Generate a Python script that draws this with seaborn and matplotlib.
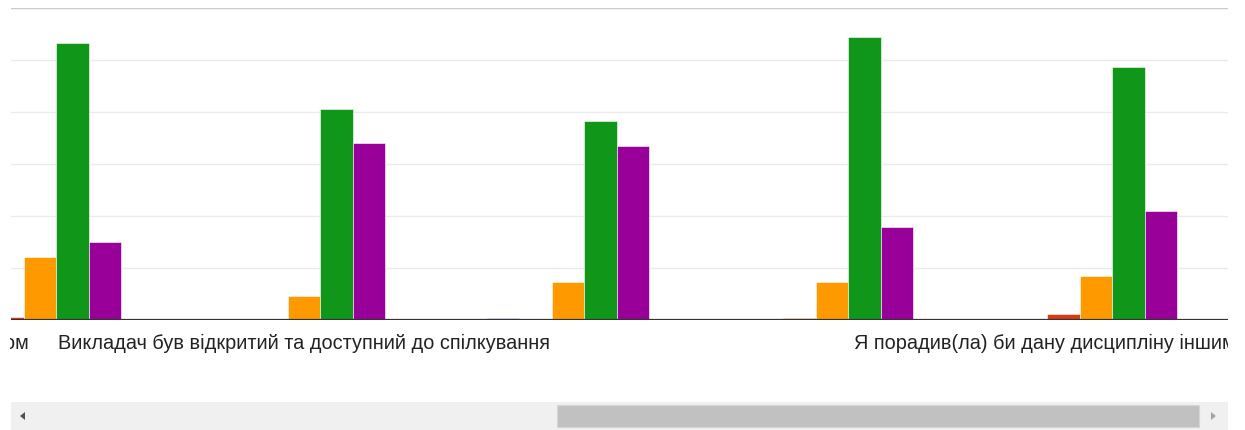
'''
Diagrama de barras agrupadas (respostas de um questionario), no estilo
do Google Forms, com a barra de rolagem na parte de baixo.
'''

import pandas as pd
import matplotlib
matplotlib.use('Agg')
import matplotlib.pyplot as plt
from matplotlib.patches import Rectangle, Polygon
from matplotlib.transforms import Bbox, TransformedBbox
import seaborn as sns

# Dados
questions = ['Питання 2',
             'Викладач був відкритий та доступний до спілкування',
             'Питання 4',
             'Питання 5',
             'Я порадив(ла) би дану дисципліну іншим студентам']
answers = ['Повністю не згоден', 'Не згоден', 'Важко відповісти',
           'Згоден', 'Повністю згоден']
strongly_disagree = [0.0, 1.0, 2.0, 1.0, 1.0]
disagree = [2.5, 1.0, 1.0, 1.8, 6.0]
neutral = [61, 23, 37, 37, 42]
agree = [266, 203, 191, 272, 243]
strongly_agree = [75, 170, 167, 89, 105]

# Rotulos do eixo x que aparecem (o primeiro fica fora da area visivel)
label_positions = [-1, 1, 4]
label_texts = ['Матеріал дисципліни був цікавим та корисним змістом',
               questions[1], questions[4]]

palette = ['#3366cc', '#dc3912', '#ff9900', '#109618', '#990099']


def build_table():
    """Monta a tabela longa usada pelo seaborn"""
    series = [strongly_disagree, disagree, neutral, agree, strongly_agree]
    rows = []
    for answer, values in zip(answers, series):
        for question, value in zip(questions, values):
            rows.append({'question': question, 'answer': answer, 'count': value})
    return pd.DataFrame(rows)


def main():
    sns.set_theme(style='white')
    plt.rcParams['font.family'] = ['Liberation Sans', 'DejaVu Sans']

    W, H = 1245, 430
    fig = plt.figure(figsize=(W / 100, H / 100), dpi=100)
    ax = fig.add_axes([11 / W, 110 / H, 1217 / W, 312 / H])

    data = build_table()
    sns.barplot(data=data, x='question', y='count', hue='answer',
                order=questions, hue_order=answers, palette=palette,
                width=0.617, saturation=1, edgecolor='white', linewidth=0.4,
                legend=False, ax=ax, zorder=3)

    ax.set_xlim(-0.11, 4.5)
    ax.set_ylim(0, 300)
    ax.set_yticks(range(0, 301, 50))
    ax.yaxis.grid(True, color='#ebebeb', linewidth=1, zorder=0)
    ax.axhline(300, color='#cccccc', linewidth=1, zorder=1)
    ax.axhline(0, color='#333333', linewidth=1.6, zorder=4)
    for spine in ax.spines.values():
        spine.set_visible(False)
    ax.set_xticks([])
    ax.set_yticklabels([])
    ax.tick_params(left=False)
    ax.set_xlabel('')
    ax.set_ylabel('')

    # Rotulos das categorias, cortados nas bordas da area do grafico
    clip = TransformedBbox(Bbox.from_extents(10 / W, 0, 1228 / W, 1),
                           fig.transFigure)
    for pos, text in zip(label_positions, label_texts):
        t = ax.text(pos, -0.074, text, transform=ax.get_xaxis_transform(),
                    ha='center', va='center', fontsize=14.3, color='#222222',
                    clip_on=True)
        t.set_clip_path(None)
        t.set_clip_box(clip)

    # Barra de rolagem
    fig.patches.append(Rectangle((11 / W, 0), 1217 / W, 28 / H,
                                 transform=fig.transFigure,
                                 facecolor='#f0f0f0', edgecolor='none'))
    fig.patches.append(Rectangle((557 / W, 3 / H), 642 / W, 22 / H,
                                 transform=fig.transFigure,
                                 facecolor='#c1c1c1', edgecolor='#d6d6d6',
                                 linewidth=0.8))
    fig.patches.append(Polygon([(20 / W, 14 / H), (25 / W, 18 / H),
                                (25 / W, 10 / H)], closed=True,
                               transform=fig.transFigure,
                               facecolor='#505050', edgecolor='none'))
    fig.patches.append(Polygon([(1216 / W, 14 / H), (1211 / W, 18 / H),
                                (1211 / W, 10 / H)], closed=True,
                               transform=fig.transFigure,
                               facecolor='#a3a3a3', edgecolor='none'))

    fig.savefig('out.png', dpi=100, facecolor='white')


if __name__ == "__main__":
    main()
